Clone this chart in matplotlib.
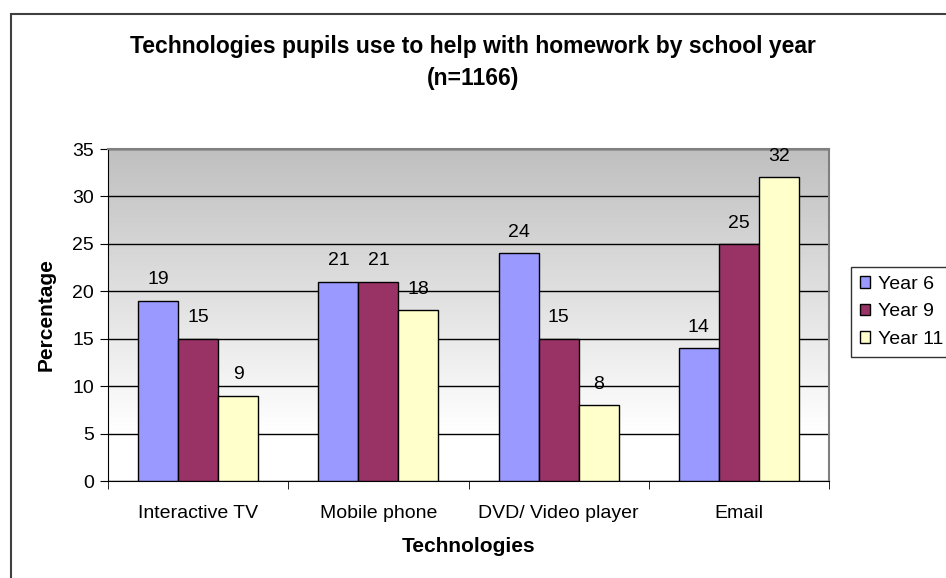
import numpy as np
import matplotlib.pyplot as plt
from matplotlib.patches import Rectangle

# -------------------------
# DATA
# -------------------------
technologies = ['Interactive TV', 'Mobile phone', 'DVD/ Video player', 'Email']
year6 = [19, 21, 24, 14]
year9 = [15, 21, 15, 25]
year11 = [9, 18, 8, 32]
series_names = ['Year 6', 'Year 9', 'Year 11']
colors = ['#9999FF', '#993366', '#FFFFCC']

plt.rcParams['font.family'] = ['Liberation Sans', 'DejaVu Sans']

fig = plt.figure(figsize=(9.46, 5.78), dpi=100)
ax = fig.add_axes([0.1142, 0.1678, 0.7622, 0.5744])

# outer chart border
fig.patches.append(Rectangle((11 / 946, -0.01), 1.0, (578 - 14) / 578 + 0.01,
                             transform=fig.transFigure, fill=False,
                             edgecolor='#404040', linewidth=1.5))

# gradient background (gray top -> white bottom)
t = np.linspace(0, 1, 256)
shade = 0.75 + 0.25 * np.clip(t / 0.85, 0, 1)
grad = np.repeat(shade[:, None, None], 3, axis=2)
ax.imshow(grad, extent=[-0.5, 3.5, 0, 35], aspect='auto', zorder=0)

x = np.arange(len(technologies))
w = 0.222
for i, (vals, name, col) in enumerate(zip([year6, year9, year11], series_names, colors)):
    pos = x + (i - 1) * w
    bars = ax.bar(pos, vals, width=w, color=col, edgecolor='black',
                  linewidth=1, label=name, zorder=3)
    for b, v in zip(bars, vals):
        ax.text(b.get_x() + b.get_width() / 2, v + 1.3, str(v),
                ha='center', va='bottom', fontsize=14, zorder=4)

ax.set_xlim(-0.5, 3.5)
ax.set_ylim(0, 35)
ax.set_yticks(range(0, 36, 5))
ax.yaxis.grid(True, color='black', linewidth=1, zorder=1)
ax.set_axisbelow(True)

ax.set_xticks(x)
ax.set_xticklabels(technologies, fontsize=14)
ax.set_xticks(np.arange(-0.5, 4, 1), minor=True)
ax.tick_params(axis='x', which='major', length=0, pad=17)
ax.tick_params(axis='x', which='minor', length=6, direction='out')
ax.tick_params(axis='y', labelsize=14, length=6, direction='out', pad=4)

for s in ['top', 'right']:
    ax.spines[s].set_color('#808080')
    ax.spines[s].set_linewidth(1.5)
ax.spines['left'].set_color('black')
ax.spines['bottom'].set_color('black')

ax.set_xlabel('Technologies', fontsize=15, fontweight='bold', labelpad=11)
ax.set_ylabel('Percentage', fontsize=15, fontweight='bold', labelpad=12)

fig.suptitle('Technologies pupils use to help with homework by school year\n(n=1166)',
             x=0.5, y=0.94, fontsize=16.5, fontweight='bold', linespacing=1.5)

leg = ax.legend(loc='upper left', bbox_to_anchor=(851 / 946, (578 - 267) / 578),
                bbox_transform=fig.transFigure, fontsize=14, frameon=True,
                fancybox=False, edgecolor='black', handlelength=0.55,
                handleheight=0.55, handletextpad=0.4, borderaxespad=0,
                labelspacing=0.55, borderpad=0.45)
leg.get_frame().set_linewidth(1)

plt.savefig('out.png', dpi=100)
